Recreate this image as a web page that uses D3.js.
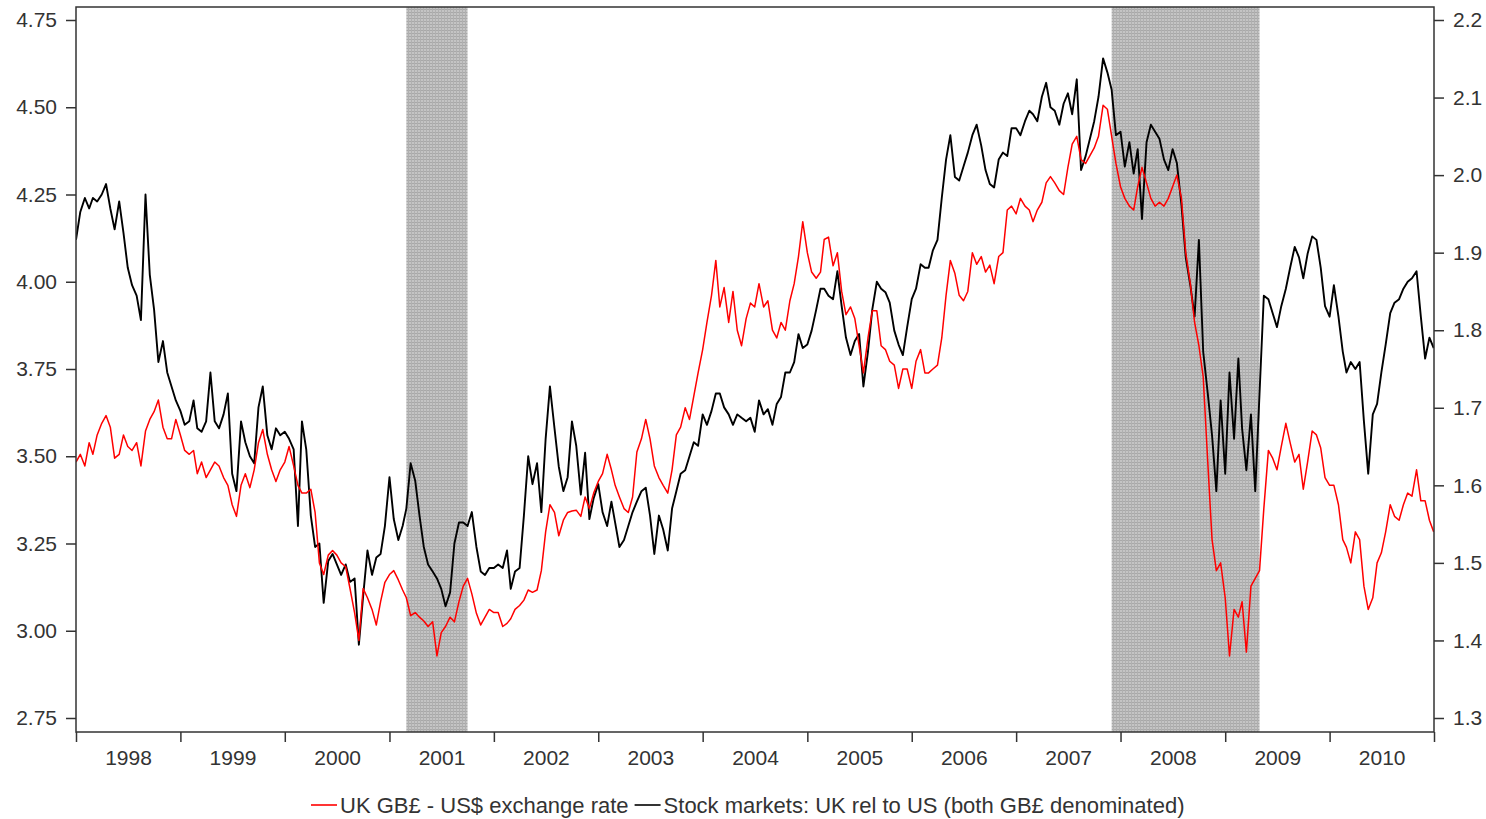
<!DOCTYPE html>
<html>
<head>
<meta charset="utf-8">
<script src="https://cdn.jsdelivr.net/npm/d3@7"></script>
<style>
  body { margin: 0; background: #fff; }
  svg { display: block; font-family: "Liberation Sans", Arial, sans-serif; }
</style>
</head>
<body>
<svg id="chart" width="1486" height="819"></svg>
<script>
// --- Data (semi-monthly readings: 1st and 16th of each month, 1998-2010, plus 31 Dec 2010) ---
const years = [1998, 1999, 2000, 2001, 2002, 2003, 2004, 2005, 2006, 2007, 2008, 2009, 2010];
const leftTicks = [2.75, 3.00, 3.25, 3.50, 3.75, 4.00, 4.25, 4.50, 4.75];
const rightTicks = [1.3, 1.4, 1.5, 1.6, 1.7, 1.8, 1.9, 2.0, 2.1, 2.2];
const recessions = [["2001-03-01", "2001-10-01"], ["2007-12-01", "2009-05-01"]];

// Stock markets: UK rel to US (left axis)
const stockRel = [
  4.12, 4.20, 4.24, 4.21, 4.24, 4.23, 4.25, 4.28, 4.21, 4.15, 4.23, 4.14, 4.04, 3.99, 3.96, 3.89, 4.25, 4.02, 3.92, 3.77, 3.83, 3.74, 3.70, 3.66, // 1998
  3.63, 3.59, 3.60, 3.66, 3.58, 3.57, 3.60, 3.74, 3.60, 3.58, 3.62, 3.68, 3.45, 3.40, 3.60, 3.54, 3.50, 3.48, 3.64, 3.70, 3.56, 3.52, 3.58, 3.56, // 1999
  3.57, 3.55, 3.52, 3.30, 3.60, 3.52, 3.33, 3.24, 3.25, 3.08, 3.20, 3.22, 3.19, 3.16, 3.19, 3.14, 3.15, 2.96, 3.10, 3.23, 3.16, 3.21, 3.22, 3.30, // 2000
  3.44, 3.32, 3.26, 3.30, 3.35, 3.48, 3.43, 3.33, 3.24, 3.19, 3.17, 3.15, 3.12, 3.07, 3.11, 3.25, 3.31, 3.31, 3.30, 3.34, 3.24, 3.17, 3.16, 3.18, // 2001
  3.18, 3.19, 3.18, 3.23, 3.12, 3.17, 3.18, 3.33, 3.50, 3.42, 3.48, 3.34, 3.55, 3.70, 3.58, 3.47, 3.40, 3.44, 3.60, 3.53, 3.39, 3.51, 3.32, 3.38, // 2002
  3.42, 3.34, 3.30, 3.37, 3.31, 3.24, 3.26, 3.30, 3.34, 3.37, 3.40, 3.41, 3.33, 3.22, 3.33, 3.29, 3.23, 3.35, 3.40, 3.45, 3.46, 3.50, 3.54, 3.53, // 2003
  3.62, 3.59, 3.63, 3.68, 3.68, 3.64, 3.62, 3.59, 3.62, 3.61, 3.60, 3.61, 3.57, 3.66, 3.62, 3.635, 3.59, 3.65, 3.67, 3.74, 3.74, 3.77, 3.85, 3.81, // 2004
  3.82, 3.86, 3.92, 3.98, 3.98, 3.96, 3.95, 4.03, 3.93, 3.84, 3.79, 3.83, 3.85, 3.70, 3.80, 3.92, 4.00, 3.98, 3.97, 3.94, 3.86, 3.82, 3.79, 3.87, // 2005
  3.95, 3.98, 4.05, 4.04, 4.04, 4.09, 4.12, 4.24, 4.35, 4.42, 4.30, 4.29, 4.33, 4.37, 4.42, 4.45, 4.39, 4.32, 4.28, 4.27, 4.35, 4.37, 4.36, 4.44, // 2006
  4.44, 4.42, 4.46, 4.49, 4.48, 4.46, 4.53, 4.57, 4.50, 4.49, 4.45, 4.51, 4.54, 4.48, 4.58, 4.32, 4.36, 4.41, 4.46, 4.53, 4.64, 4.60, 4.55, 4.42, // 2007
  4.43, 4.33, 4.40, 4.31, 4.38, 4.18, 4.40, 4.45, 4.43, 4.41, 4.35, 4.32, 4.38, 4.34, 4.22, 4.07, 3.99, 3.90, 4.12, 3.80, 3.68, 3.56, 3.40, 3.66, // 2008
  3.45, 3.74, 3.55, 3.78, 3.58, 3.46, 3.62, 3.40, 3.68, 3.96, 3.95, 3.91, 3.87, 3.93, 3.98, 4.04, 4.10, 4.07, 4.01, 4.08, 4.13, 4.12, 4.04, 3.93, // 2009
  3.90, 3.99, 3.90, 3.80, 3.74, 3.77, 3.75, 3.77, 3.60, 3.45, 3.62, 3.65, 3.74, 3.82, 3.91, 3.94, 3.95, 3.98, 4.00, 4.01, 4.03, 3.90, 3.78, 3.84, // 2010
  3.81
];

// UK GB£ - US$ exchange rate (right axis)
const gbpUsd = [
  1.630, 1.640, 1.625, 1.655, 1.640, 1.665, 1.680, 1.690, 1.675, 1.635, 1.640, 1.665, 1.650, 1.645, 1.655, 1.625, 1.670, 1.685, 1.695, 1.710, 1.675, 1.660, 1.660, 1.685, // 1998
  1.665, 1.645, 1.640, 1.645, 1.615, 1.630, 1.610, 1.620, 1.630, 1.625, 1.610, 1.600, 1.575, 1.560, 1.600, 1.615, 1.597, 1.620, 1.655, 1.672, 1.640, 1.620, 1.605, 1.620, // 1999
  1.630, 1.650, 1.625, 1.600, 1.590, 1.590, 1.595, 1.565, 1.500, 1.485, 1.510, 1.516, 1.510, 1.500, 1.495, 1.467, 1.436, 1.400, 1.467, 1.455, 1.440, 1.420, 1.450, 1.475, // 2000
  1.485, 1.490, 1.478, 1.465, 1.455, 1.432, 1.436, 1.430, 1.425, 1.418, 1.424, 1.380, 1.410, 1.418, 1.430, 1.424, 1.450, 1.470, 1.480, 1.460, 1.435, 1.420, 1.430, 1.440, // 2001
  1.436, 1.436, 1.418, 1.422, 1.428, 1.440, 1.445, 1.452, 1.465, 1.462, 1.465, 1.490, 1.540, 1.575, 1.565, 1.535, 1.555, 1.565, 1.567, 1.568, 1.560, 1.585, 1.570, 1.590, // 2002
  1.605, 1.615, 1.640, 1.620, 1.600, 1.585, 1.570, 1.565, 1.585, 1.643, 1.660, 1.685, 1.660, 1.625, 1.610, 1.600, 1.590, 1.620, 1.665, 1.675, 1.700, 1.685, 1.715, 1.745, // 2003
  1.775, 1.810, 1.845, 1.890, 1.830, 1.855, 1.810, 1.850, 1.800, 1.780, 1.815, 1.835, 1.830, 1.860, 1.830, 1.838, 1.800, 1.790, 1.810, 1.800, 1.838, 1.860, 1.895, 1.940, // 2004
  1.900, 1.875, 1.867, 1.875, 1.917, 1.920, 1.883, 1.900, 1.850, 1.820, 1.830, 1.815, 1.780, 1.745, 1.790, 1.825, 1.825, 1.780, 1.775, 1.760, 1.755, 1.725, 1.750, 1.750, // 2005
  1.725, 1.760, 1.775, 1.745, 1.745, 1.750, 1.755, 1.790, 1.845, 1.890, 1.873, 1.845, 1.838, 1.850, 1.900, 1.885, 1.895, 1.875, 1.884, 1.860, 1.895, 1.900, 1.955, 1.960, // 2006
  1.950, 1.970, 1.960, 1.955, 1.940, 1.955, 1.965, 1.990, 1.998, 1.990, 1.980, 1.975, 2.010, 2.040, 2.050, 2.020, 2.015, 2.025, 2.035, 2.050, 2.090, 2.085, 2.050, 2.015, // 2007
  1.985, 1.970, 1.960, 1.955, 1.985, 2.010, 1.990, 1.970, 1.960, 1.965, 1.960, 1.970, 1.985, 2.000, 1.970, 1.900, 1.860, 1.810, 1.780, 1.740, 1.630, 1.530, 1.490, 1.500, // 2008
  1.455, 1.380, 1.440, 1.430, 1.450, 1.385, 1.470, 1.480, 1.490, 1.570, 1.645, 1.635, 1.620, 1.650, 1.680, 1.655, 1.630, 1.640, 1.595, 1.630, 1.670, 1.665, 1.648, 1.610, // 2009
  1.600, 1.600, 1.575, 1.530, 1.520, 1.500, 1.540, 1.530, 1.470, 1.440, 1.455, 1.500, 1.513, 1.540, 1.575, 1.560, 1.555, 1.575, 1.590, 1.586, 1.620, 1.580, 1.580, 1.555, // 2010
  1.540
];

const redLabel = "UK GB\u00a3 - US$ exchange rate";
const blackLabel = "Stock markets: UK rel to US (both GB\u00a3 denominated)";

// --- Dates for the readings ---
const dates = [];
d3.timeMonth.range(new Date(1998, 0, 1), new Date(2011, 0, 1)).forEach(m => {
    dates.push(m, new Date(m.getFullYear(), m.getMonth(), 16));
});
dates.push(new Date(2010, 11, 31));

// --- Layout ---
const svg = d3.select("#chart");
const plot = { left: 76, right: 1434, top: 7, bottom: 732 };
const axisColor = "#333";
const fontSize = 21;

const x = d3.scaleTime()
    .domain([new Date(1998, 0, 1), new Date(2011, 0, 1)])
    .range([plot.left, plot.right]);
const yLeft = d3.scaleLinear().domain([2.75, 4.75]).range([718, 20]);
const yRight = d3.scaleLinear().domain([1.3, 2.2]).range([718, 20]);

// Hatched grey pattern for recession bands
const defs = svg.append("defs");
const pat = defs.append("pattern")
    .attr("id", "shade")
    .attr("width", 3).attr("height", 3)
    .attr("patternUnits", "userSpaceOnUse");
pat.append("rect").attr("width", 3).attr("height", 3).attr("fill", "#c4c4c4");
pat.append("rect").attr("width", 3).attr("height", 1).attr("fill", "#a8a8a8");
pat.append("rect").attr("width", 1).attr("height", 3).attr("fill", "#b0b0b0");

defs.append("clipPath").attr("id", "plotClip")
    .append("rect")
    .attr("x", plot.left).attr("y", plot.top)
    .attr("width", plot.right - plot.left).attr("height", plot.bottom - plot.top);

// Recession shading
svg.append("g").selectAll("rect")
    .data(recessions)
    .join("rect")
    .attr("x", d => x(new Date(d[0])))
    .attr("width", d => x(new Date(d[1])) - x(new Date(d[0])))
    .attr("y", plot.top)
    .attr("height", plot.bottom - plot.top)
    .attr("fill", "url(#shade)");

// Lines
const lines = svg.append("g").attr("clip-path", "url(#plotClip)");

const stockLine = d3.line()
    .x((d, i) => x(dates[i]))
    .y(d => yLeft(d));
const fxLine = d3.line()
    .x((d, i) => x(dates[i]))
    .y(d => yRight(d));

lines.append("path")
    .datum(stockRel.slice(0, dates.length))
    .attr("fill", "none")
    .attr("stroke", "#000")
    .attr("stroke-width", 1.9)
    .attr("stroke-linejoin", "round")
    .attr("d", stockLine);

lines.append("path")
    .datum(gbpUsd.slice(0, dates.length))
    .attr("fill", "none")
    .attr("stroke", "#ff0000")
    .attr("stroke-width", 1.5)
    .attr("stroke-linejoin", "round")
    .attr("d", fxLine);

// Frame
svg.append("rect")
    .attr("x", plot.left).attr("y", plot.top)
    .attr("width", plot.right - plot.left).attr("height", plot.bottom - plot.top)
    .attr("fill", "none")
    .attr("stroke", axisColor)
    .attr("stroke-width", 1.5);

// --- Axes ---
function styleAxis(g) {
    g.select(".domain").remove();
    g.selectAll(".tick line").attr("stroke", axisColor).attr("stroke-width", 1.5);
    g.selectAll(".tick text")
        .attr("fill", "#333")
        .style("font-size", fontSize + "px")
        .style("font-family", '"Liberation Sans", Arial, sans-serif');
}

svg.append("g")
    .attr("transform", `translate(${plot.left},0)`)
    .call(d3.axisLeft(yLeft).tickValues(leftTicks).tickFormat(d3.format(".2f")).tickSize(10).tickPadding(9))
    .call(styleAxis);

svg.append("g")
    .attr("transform", `translate(${plot.right},0)`)
    .call(d3.axisRight(yRight).tickValues(rightTicks).tickFormat(d3.format(".1f")).tickSize(10).tickPadding(9))
    .call(styleAxis);

const yearStarts = years.map(y => new Date(y, 0, 1)).concat([new Date(2011, 0, 1)]);
svg.append("g")
    .attr("transform", `translate(0,${plot.bottom})`)
    .call(d3.axisBottom(x).tickValues(yearStarts).tickSize(10).tickFormat(""))
    .call(styleAxis);

svg.append("g")
    .attr("transform", `translate(0,${plot.bottom})`)
    .call(d3.axisBottom(x).tickValues(years.map(y => new Date(y, 6, 2))).tickSize(0).tickPadding(18).tickFormat(d3.timeFormat("%Y")))
    .call(styleAxis);

// --- Legend ---
const legend = svg.append("g").attr("transform", "translate(0,805)");
const items = [{ label: redLabel, color: "#ff0000" }, { label: blackLabel, color: "#000" }];
let cursor = 0;
items.forEach(it => {
    const g = legend.append("g").attr("class", "item");
    g.append("line")
        .attr("x1", cursor).attr("x2", cursor + 26)
        .attr("y1", 0).attr("y2", 0)
        .attr("stroke", it.color).attr("stroke-width", 1.6);
    const t = g.append("text")
        .attr("x", cursor + 29)
        .attr("y", 0)
        .attr("dy", "0.35em")
        .attr("fill", "#333")
        .style("font-size", "22px")
        .text(it.label);
    cursor += 29 + t.node().getComputedTextLength() + 6;
});
const legendWidth = cursor - 6;
legend.attr("transform", `translate(${Math.round(748 - legendWidth / 2)},805)`);
</script>
</body>
</html>
